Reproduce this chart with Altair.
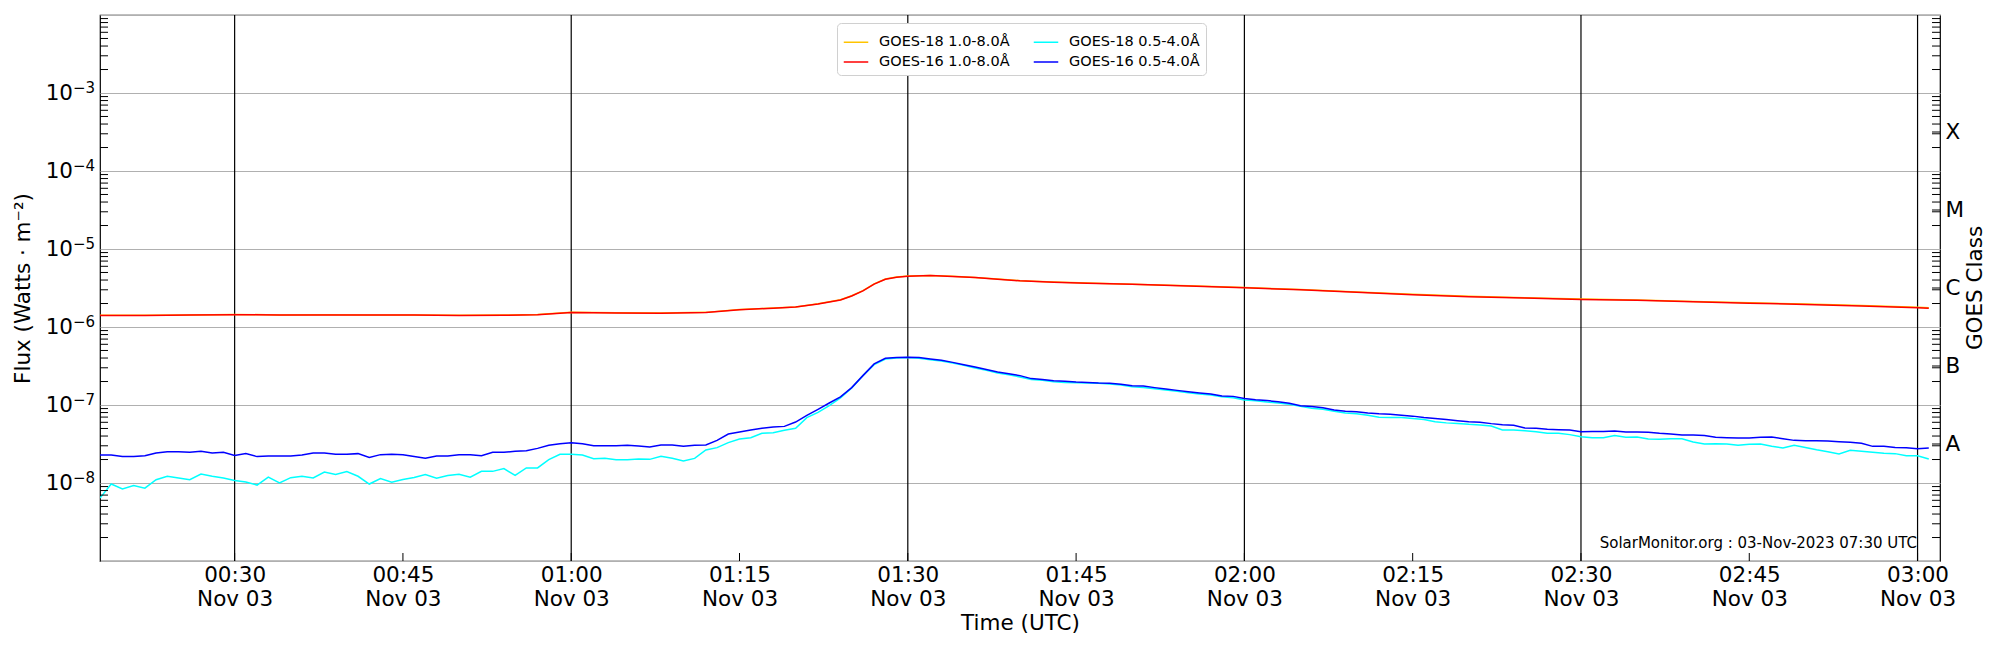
import altair as alt
import pandas as pd

# ---------------- data ----------------
# 0.5-4.0 Å channels, 1-minute cadence from 00:18 to 03:01 UTC, units 1e-9 W m^-2
short_start = "2023-11-03T00:18:00Z"
goes18_short = [
    6.4, 9.7, 8.4, 9.3, 8.6, 11.0, 12.2, 11.6, 11.0, 13.0, 12.2, 11.6, 10.8, 10.3, 9.4,
    11.9, 10.0, 11.7, 12.2, 11.6, 13.8, 12.9, 14.0, 12.2, 9.7, 11.4, 10.2, 11.1, 11.8, 12.8,
    11.5, 12.5, 12.9, 11.9, 14.1, 14.1, 15.3, 12.5, 15.6, 15.6, 19.9, 23.3,
    23.3, 22.9, 20.5, 20.7, 19.9, 19.9, 20.3, 20.1, 22.0, 20.7, 19.1, 20.7, 26.5, 28.4,
    32.9, 36.6, 38.1, 43.3, 44.2, 47.3, 50.2, 68.9, 80.5, 98, 123, 165, 238, 329, 389,
    401, 405, 397, 381, 366, 345, 322, 298, 278, 257, 245, 229,
    213, 207, 199, 195, 193, 191, 190, 186, 180, 172, 168, 162, 156, 150, 144, 138, 134,
    128, 124, 116, 113, 109, 106, 102, 96, 91, 88, 83, 79, 77, 74, 69.5, 69, 69, 67, 65,
    61, 59, 58, 56.5,
    55.5, 53.8, 47.8, 47.8, 46.9, 45.5, 43.3, 43.3, 41.7, 39.3, 38.1, 38.1, 40.5, 38.5,
    38.9, 36.6, 36.3, 37.0, 37.0, 33.6, 31.6, 31.9, 31.6, 30.4, 31.3, 31.6, 29.5, 28.1,
    30.4, 28.6, 26.7, 25.2, 23.6, 26.2, 25.5, 24.7, 24.0, 23.8, 22.4, 22.4, 20.3,
]
goes16_short = [
    22.9, 22.9, 21.8, 21.8, 22.4, 24.2, 25.2, 25.2, 24.7, 25.5, 24.2, 24.7, 22.6, 23.8,
    21.8, 22.2, 22.2, 22.2, 22.9, 24.2, 24.2, 23.3, 23.3, 23.8, 21.3, 23.1, 23.3, 23.1,
    21.8, 20.7, 22.2, 22.2, 23.1, 23.1, 22.4, 24.7, 24.7, 25.5, 26.0, 27.8, 30.4, 31.9,
    32.9, 31.9, 30.1, 30.1, 30.1, 30.4, 29.8, 29.0, 30.7, 30.7, 29.5, 30.4, 30.7, 35.2,
    42.5, 45.1, 47.8, 50.2, 52.2, 53.2, 60.5, 73.7, 88.0, 106, 127, 167, 238, 336, 397,
    405, 409, 405, 389, 374, 352, 329, 307, 286, 265, 252, 238,
    218, 213, 205, 201, 197, 195, 191, 190, 184, 177, 175, 167, 160, 154, 148, 143, 138,
    130, 129, 121, 117, 114, 110, 105, 98, 96, 92, 86, 83, 82, 79, 77, 76, 74, 72, 69,
    67, 65, 63, 61,
    60.0, 57.7, 56.0, 54.9, 50.7, 50.2, 48.8, 48.3, 47.8, 45.5, 45.9, 45.9, 46.4, 45.1,
    45.1, 44.6, 43.3, 42.5, 41.2, 41.2, 40.5, 38.5, 38.1, 37.8, 37.8, 38.5, 38.9, 37.0,
    35.2, 34.9, 34.9, 34.5, 33.9, 33.2, 32.3, 29.5, 29.5, 28.6, 28.4, 27.5, 28.1,
]

# 1.0-8.0 Å channels (smooth), read at key times, units 1e-6 W m^-2
long_times = [
    "00:18", "00:22", "00:26", "00:30", "00:34", "00:38", "00:42", "00:46", "00:50",
    "00:54", "00:57", "01:00", "01:04", "01:08", "01:12", "01:15", "01:18", "01:20",
    "01:22", "01:24", "01:25", "01:26", "01:27", "01:28", "01:29", "01:30", "01:32",
    "01:34", "01:36", "01:38", "01:40", "01:43", "01:46", "01:50", "01:55", "02:00",
    "02:05", "02:10", "02:15", "02:20", "02:25", "02:30", "02:35", "02:40", "02:45",
    "02:50", "02:55", "03:00", "03:01",
]
goes16_long = [
    1.40, 1.40, 1.42, 1.44, 1.42, 1.43, 1.42, 1.42, 1.40, 1.41, 1.44, 1.53, 1.51, 1.50,
    1.53, 1.67, 1.74, 1.80, 1.97, 2.22, 2.50, 2.90, 3.55, 4.10, 4.35, 4.48, 4.56, 4.45,
    4.30, 4.10, 3.91, 3.75, 3.65, 3.52, 3.36, 3.18, 3.00, 2.78, 2.60, 2.45, 2.35, 2.26,
    2.20, 2.10, 2.02, 1.95, 1.86, 1.77, 1.74,
]
goes18_long = [
    1.41, 1.41, 1.43, 1.45, 1.43, 1.44, 1.43, 1.43, 1.41, 1.42, 1.45, 1.54, 1.52, 1.51,
    1.54, 1.68, 1.75, 1.81, 1.98, 2.24, 2.52, 2.93, 3.58, 4.12, 4.37, 4.50, 4.58, 4.47,
    4.32, 4.12, 3.93, 3.77, 3.67, 3.54, 3.38, 3.20, 3.02, 2.80, 2.62, 2.47, 2.37, 2.28,
    2.22, 2.12, 2.04, 1.97, 1.88, 1.79, 1.76,
]

# legend order (column-major fill): col 1 = 1.0-8.0 Å, col 2 = 0.5-4.0 Å
series_names = ["GOES-18 1.0-8.0Å", "GOES-16 1.0-8.0Å", "GOES-18 0.5-4.0Å", "GOES-16 0.5-4.0Å"]
series_colors = ["#FFC400", "#FF0000", "#00FFFF", "#0000FF"]
draw_order = ["GOES-18 1.0-8.0Å", "GOES-16 1.0-8.0Å", "GOES-18 0.5-4.0Å", "GOES-16 0.5-4.0Å"]

vline_times = ["00:30", "01:00", "01:30", "02:00", "02:30", "03:00"]
xtick_times = ["00:30", "00:45", "01:00", "01:15", "01:30", "01:45", "02:00",
               "02:15", "02:30", "02:45", "03:00"]
ylabel_exps = [-8, -7, -6, -5, -4, -3]
goes_letters = ["A", "B", "C", "M", "X"]
goes_centers = [10 ** -7.5, 10 ** -6.5, 10 ** -5.5, 10 ** -4.5, 10 ** -3.5]
right_title = "GOES Class"
watermark = "SolarMonitor.org : 03-Nov-2023 07:30 UTC"

# ---------------- tables ----------------
def ts(hhmm):
    return f"2023-11-03T{hhmm}:00Z"

short_times = pd.date_range(short_start, periods=len(goes18_short), freq="min")
short_iso = [t.strftime("%Y-%m-%dT%H:%M:%SZ") for t in short_times]

rows = []
for t, v in zip(long_times, goes18_long):
    rows.append({"time": ts(t), "flux": v * 1e-6, "series": "GOES-18 1.0-8.0Å"})
for t, v in zip(long_times, goes16_long):
    rows.append({"time": ts(t), "flux": v * 1e-6, "series": "GOES-16 1.0-8.0Å"})
for t, v in zip(short_iso, goes18_short):
    rows.append({"time": t, "flux": v * 1e-9, "series": "GOES-18 0.5-4.0Å"})
for t, v in zip(short_iso, goes16_short):
    rows.append({"time": t, "flux": v * 1e-9, "series": "GOES-16 0.5-4.0Å"})
df = pd.DataFrame(rows)

vlines = pd.DataFrame({"time": [ts(t) for t in vline_times]})
xticks = pd.DataFrame({"time": [ts(t) for t in xtick_times]})
minor = [m * 10.0 ** k for k in range(-9, -2) for m in range(2, 10)]
left_ticks = pd.DataFrame({"v": minor})
right_ticks = pd.DataFrame({"v": minor + goes_centers})
classes = pd.DataFrame({"v": goes_centers, "c": goes_letters})
ylab = pd.DataFrame({"v": [10.0 ** e for e in ylabel_exps],
                     "base": ["10"] * len(ylabel_exps),
                     "sup": ["\u2212" + str(-e) for e in ylabel_exps]})

W, H = 1840, 546
FONT = "DejaVu Sans"
FS = 21.5

xscale = alt.Scale(type="utc", domain=[
    alt.DateTime(year=2023, month=11, date=3, hours=0, minutes=18, utc=True),
    alt.DateTime(year=2023, month=11, date=3, hours=3, minutes=2, utc=True)])
yscale = alt.Scale(type="log", domain=[1e-9, 1e-2])

xaxis = alt.Axis(
    values=[alt.DateTime(year=2023, month=11, date=3, hours=int(t[:2]),
                         minutes=int(t[3:]), utc=True) for t in xtick_times],
    labelExpr="[utcFormat(datum.value, '%H:%M'), utcFormat(datum.value, '%b %d')]",
    grid=False, ticks=False, domain=False, labelFontSize=FS, labelLineHeight=24,
    labelPadding=3, labelFlush=False, labelOverlap=False, title="Time (UTC)",
    titleFontSize=FS, titlePadding=3, titleFontWeight="normal")
X = alt.X("time:T", scale=xscale, axis=xaxis)

yaxis_left = alt.Axis(
    values=[10.0 ** k for k in range(-9, -1)], labels=False,
    grid=True, gridColor="#b0b0b0", gridWidth=1, ticks=False, domain=False,
    title="Flux (Watts · m⁻²)", titleFontSize=FS, titlePadding=66,
    titleFontWeight="normal")
yaxis_right = alt.Axis(
    orient="right", values=goes_centers,
    labelExpr=("datum.value < 1e-7 ? 'A' : datum.value < 1e-6 ? 'B' : "
               "datum.value < 1e-5 ? 'C' : datum.value < 1e-4 ? 'M' : 'X'"),
    grid=False, ticks=False, domain=False, labelFontSize=FS, labelPadding=5,
    title=None)

color = alt.Color(
    "series:N",
    scale=alt.Scale(domain=series_names, range=series_colors),
    legend=alt.Legend(
        title=None, orient="none", legendX=737, legendY=8, columns=2,
        symbolType="stroke", symbolSize=600, symbolStrokeWidth=1.5,
        labelFontSize=14.5, labelOffset=10, columnPadding=20, rowPadding=-3,
        padding=6, fillColor="white", strokeColor="#d0d0d0", cornerRadius=4,
        labelLimit=300))

layers = []
for i, name in enumerate(draw_order):
    layers.append(
        alt.Chart(df).transform_filter(alt.datum.series == name)
        .mark_line(strokeWidth=1.5, clip=True)
        .encode(x=X,
                y=alt.Y("flux:Q", scale=yscale, axis=yaxis_left if i == 0 else None),
                color=color))

vl = alt.Chart(vlines).mark_rule(color="black", strokeWidth=1.2).encode(x=X)
bt = alt.Chart(xticks).mark_rule(color="black", strokeWidth=1).encode(
    x=X, y=alt.value(H - 8), y2=alt.value(H))
lt = alt.Chart(left_ticks).mark_rule(color="black", strokeWidth=1).encode(
    y=alt.Y("v:Q", scale=yscale, axis=None), x=alt.value(0), x2=alt.value(8))
rt = alt.Chart(right_ticks).mark_rule(color="black", strokeWidth=1).encode(
    y=alt.Y("v:Q", scale=yscale, axis=None), x=alt.value(W - 8), x2=alt.value(W))
ra = alt.Chart(classes).mark_point(opacity=0).encode(
    y=alt.Y("v:Q", scale=yscale, axis=yaxis_right), x=alt.value(0))
rtitle = alt.Chart(pd.DataFrame({"t": [right_title]})).mark_text(
    angle=270, align="center", baseline="middle", fontSize=FS, font=FONT, color="black"
).encode(text="t:N", x=alt.value(W + 36), y=alt.value(H / 2))
yl_base = alt.Chart(ylab).mark_text(
    align="right", baseline="middle", fontSize=FS, font=FONT, color="black", dy=1
).encode(y=alt.Y("v:Q", scale=yscale, axis=None), x=alt.value(-27), text="base:N")
yl_sup = alt.Chart(ylab).mark_text(
    align="right", baseline="middle", fontSize=15, font=FONT, color="black", dy=-5
).encode(y=alt.Y("v:Q", scale=yscale, axis=None), x=alt.value(-5), text="sup:N")
wm = alt.Chart(pd.DataFrame({"t": [watermark]})).mark_text(
    align="right", baseline="middle", fontSize=15, font=FONT, color="black"
).encode(text="t:N", x=alt.value(W - 23), y=alt.value(H - 18))

chart = alt.layer(vl, *layers, bt, lt, rt, ra, rtitle, yl_base, yl_sup, wm).resolve_scale(
    y="independent"
).properties(
    width=W, height=H,
    autosize=alt.AutoSizeParams(type="none"),
    padding={"left": 92, "top": 7, "right": 50, "bottom": 75},
).configure(font=FONT).configure_view(
    stroke="black", strokeWidth=1.2
).configure_axis(
    labelFont=FONT, titleFont=FONT, labelColor="black", titleColor="black"
).configure_legend(labelFont=FONT, labelColor="black")

chart.save("out.html", embed_options={"renderer": "svg", "actions": False})
